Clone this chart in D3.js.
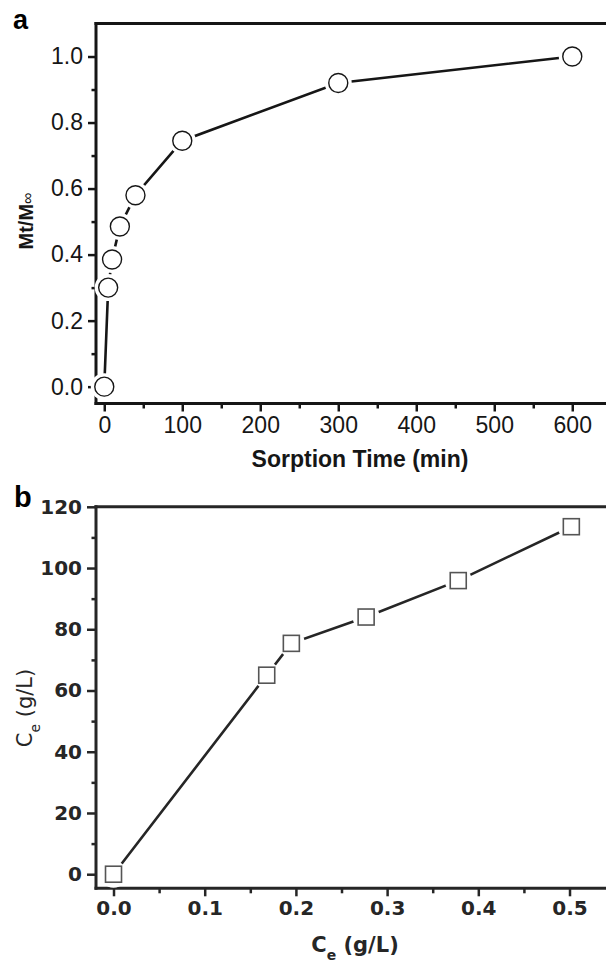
<!DOCTYPE html>
<html>
<head>
<meta charset="utf-8">
<script src="https://cdn.jsdelivr.net/npm/d3@7"></script>
<style>
  body { margin: 0; background: #fff; }
  svg { display: block; }
</style>
</head>
<body>
<svg></svg>
<script>
// panel a: sorption kinetics
const sorptionTime = [0, 5, 10, 20, 40, 100, 300, 600];
const uptakeRatio = [0, 0.30, 0.385, 0.485, 0.58, 0.745, 0.92, 1.0];
const timeTicks = [0, 100, 200, 300, 400, 500, 600];
const timeMinor = [50, 150, 250, 350, 450, 550, 650];
const ratioTicks = [0, 0.2, 0.4, 0.6, 0.8, 1.0];
const ratioMinor = [0.1, 0.3, 0.5, 0.7, 0.9];

// panel b: isotherm
const ceValues = [0, 0.168, 0.195, 0.277, 0.378, 0.502];
const qeValues = [0, 65, 75.4, 84, 95.9, 113.5];
const ceTicks = [0, 0.1, 0.2, 0.3, 0.4, 0.5];
const ceMinor = [0.05, 0.15, 0.25, 0.35, 0.45];
const qeTicks = [0, 20, 40, 60, 80, 100, 120];
const qeMinor = [10, 30, 50, 70, 90, 110];

const width = 606;
const height = 962;
const fontA = 'Liberation Sans, Arial, sans-serif';
const fontB = 'DejaVu Sans, sans-serif';

const svg = d3.select('svg')
    .attr('width', width)
    .attr('height', height);

// spines drawn by hand, ticks by d3.axis
const frame = (g, x, y, ink) => {
    const [x0] = x.range();
    const [y0, y1] = y.range();
    const seg = [[x0, y0, width, y0], [x0, y0, x0, y1], [x0, y1, width, y1]];
    g.selectAll('.spine').data(seg)
        .enter().append('line')
            .attr('x1', d => d[0]).attr('y1', d => d[1])
            .attr('x2', d => d[2]).attr('y2', d => d[3])
            .attr('stroke', ink)
            .attr('stroke-width', 3)
            .attr('stroke-linecap', 'square');
};

const ticks = (g, axis, pos, ink, font, size, weight) => {
    const a = g.append('g')
        .attr('transform', pos)
        .call(axis);
    a.select('.domain').remove();
    a.selectAll('line').attr('stroke', ink).attr('stroke-width', 2.5);
    a.selectAll('text')
        .attr('fill', ink)
        .attr('font-family', font)
        .attr('font-size', size)
        .attr('font-weight', weight);
    return a;
};

// ---------- panel a ----------
const xA = d3.scaleLinear().domain([-10.6, 650]).range([96, 96 + 660.6 * 0.78]);
const yA = d3.scaleLinear().domain([-0.051, 1.1]).range([403.5, 23.5]);
const inkA = '#161616';

const gA = svg.append('g');
frame(gA, xA, yA, inkA);

const bottomA = `translate(0,${yA.range()[0]})`;
const leftA = `translate(${xA.range()[0]},0)`;
ticks(gA, d3.axisBottom(xA).tickValues(timeTicks).tickSize(8).tickPadding(5),
    bottomA, inkA, fontA, 23, 'normal');
ticks(gA, d3.axisBottom(xA).tickValues(timeMinor).tickSize(5).tickFormat(''),
    bottomA, inkA, fontA, 23, 'normal');
ticks(gA, d3.axisLeft(yA).tickValues(ratioTicks).tickSize(8).tickPadding(5).tickFormat(d3.format('.1f')),
    leftA, inkA, fontA, 23, 'normal');
ticks(gA, d3.axisLeft(yA).tickValues(ratioMinor).tickSize(4.5).tickFormat(''),
    leftA, inkA, fontA, 23, 'normal');

const ptsA = sorptionTime.map((t, i) => [t, uptakeRatio[i]]);

gA.append('path')
    .datum(ptsA)
    .attr('fill', 'none')
    .attr('stroke', inkA)
    .attr('stroke-width', 2.6)
    .attr('d', d3.line().x(d => xA(d[0])).y(d => yA(d[1])));

// white halo so the line stops short of each marker
gA.selectAll('.haloA').data(ptsA)
    .enter().append('circle')
        .attr('cx', d => xA(d[0]))
        .attr('cy', d => yA(d[1]))
        .attr('r', 13.5)
        .attr('fill', '#fff');

gA.selectAll('.dotA').data(ptsA)
    .enter().append('circle')
        .attr('cx', d => xA(d[0]))
        .attr('cy', d => yA(d[1]))
        .attr('r', 9.5)
        .attr('fill', '#fff')
        .attr('stroke', inkA)
        .attr('stroke-width', 1.4);

gA.append('text')
    .attr('x', 360).attr('y', 466.5)
    .attr('text-anchor', 'middle')
    .attr('font-family', fontA)
    .attr('font-size', 23).attr('font-weight', 'bold')
    .attr('fill', inkA)
    .text('Sorption Time (min)');

const ytA = gA.append('text')
    .attr('transform', 'translate(33,221) rotate(-90)')
    .attr('text-anchor', 'middle')
    .attr('font-family', fontA)
    .attr('font-size', 20).attr('font-weight', 'bold')
    .attr('fill', inkA);
ytA.append('tspan').text('Mt/M');
ytA.append('tspan').attr('font-size', 16).attr('font-weight', 'normal').text('∞');

gA.append('text')
    .attr('x', 13).attr('y', 29)
    .attr('font-family', fontA)
    .attr('font-size', 27).attr('font-weight', 'bold')
    .attr('fill', '#000')
    .text('a');

// ---------- panel b ----------
const xB = d3.scaleLinear().domain([-0.0192, 0.55]).range([96, 96 + 0.5692 * 912]);
const yB = d3.scaleLinear().domain([-4.6, 120]).range([888.3, 506.8]);
const inkB = '#262626';

const gB = svg.append('g');
frame(gB, xB, yB, inkB);

const bottomB = `translate(0,${yB.range()[0]})`;
const leftB = `translate(${xB.range()[0]},0)`;
ticks(gB, d3.axisBottom(xB).tickValues(ceTicks).tickSize(8).tickPadding(5).tickFormat(d3.format('.1f')),
    bottomB, inkB, fontB, 20, 'bold');
ticks(gB, d3.axisBottom(xB).tickValues(ceMinor).tickSize(5).tickFormat(''),
    bottomB, inkB, fontB, 20, 'bold');
ticks(gB, d3.axisLeft(yB).tickValues(qeTicks).tickSize(9).tickPadding(5),
    leftB, inkB, fontB, 20, 'bold');
ticks(gB, d3.axisLeft(yB).tickValues(qeMinor).tickSize(4.5).tickFormat(''),
    leftB, inkB, fontB, 20, 'bold');

const ptsB = ceValues.map((c, i) => [c, qeValues[i]]);

gB.append('path')
    .datum(ptsB)
    .attr('fill', 'none')
    .attr('stroke', inkB)
    .attr('stroke-width', 2.6)
    .attr('d', d3.line().x(d => xB(d[0])).y(d => yB(d[1])));

gB.selectAll('.haloB').data(ptsB)
    .enter().append('circle')
        .attr('cx', d => xB(d[0]))
        .attr('cy', d => yB(d[1]))
        .attr('r', 13.5)
        .attr('fill', '#fff');

const sq = 16;
gB.selectAll('.dotB').data(ptsB)
    .enter().append('rect')
        .attr('x', d => xB(d[0]) - sq / 2)
        .attr('y', d => yB(d[1]) - sq / 2)
        .attr('width', sq).attr('height', sq)
        .attr('fill', '#fff')
        .attr('stroke', '#555')
        .attr('stroke-width', 1.6);

// axis titles with subscript e
const subTitle = (g, attrs, weight) => {
    const t = g.append('text')
        .attr('text-anchor', 'middle')
        .attr('font-family', fontB)
        .attr('font-size', 21).attr('font-weight', weight)
        .attr('fill', inkB);
    Object.entries(attrs).forEach(([k, v]) => t.attr(k, v));
    t.append('tspan').text('C');
    t.append('tspan').attr('font-size', 14).attr('dy', 8).text('e');
    t.append('tspan').attr('dy', -8).text(' (g/L)');
};
subTitle(gB, { x: 355, y: 952 }, 'bold');
subTitle(gB, { transform: 'translate(32,708) rotate(-90)' }, 'normal');

gB.append('text')
    .attr('x', 14).attr('y', 507)
    .attr('font-family', fontA)
    .attr('font-size', 29).attr('font-weight', 'bold')
    .attr('fill', '#000')
    .text('b');
</script>
</body>
</html>
